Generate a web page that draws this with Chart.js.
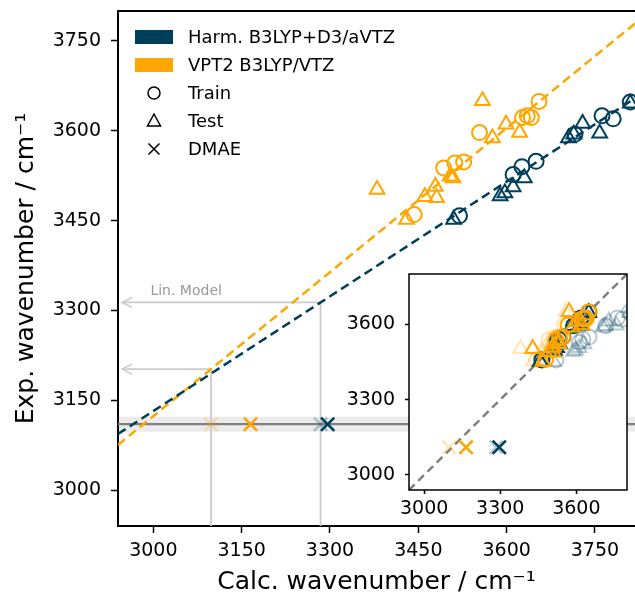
<!DOCTYPE html>
<html><head><meta charset="utf-8">
<script src="https://cdn.jsdelivr.net/npm/chart.js@4/dist/chart.umd.min.js"></script>
<style>
html,body{margin:0;padding:0;background:#fff;}
#wrap{position:relative;width:635px;height:595px;overflow:hidden;}
#main{position:absolute;left:0;top:0;width:635px;height:595px;}
#inset{position:absolute;left:330px;top:265px;width:305px;height:265px;}
</style></head><body>
<div id="wrap">
<canvas id="main" width="635" height="595"></canvas>
<canvas id="inset" width="305" height="265"></canvas>
</div>
<script>
// ---------------- data ----------------
const harmTrainCalc = [3520, 3611, 3626, 3650, 3716, 3762, 3781, 3810];
const harmTrainExp  = [3458, 3527, 3540, 3549, 3594, 3625, 3620, 3648];
const harmTestCalc  = [3510, 3589, 3597, 3611, 3630, 3705, 3714, 3729, 3758, 3810];
const harmTestExp   = [3452, 3491, 3496, 3506, 3521, 3588, 3594, 3612, 3596, 3646];
const vptTrainCalc  = [3443, 3493, 3512, 3527, 3554, 3627, 3635, 3642, 3655];
const vptTrainExp   = [3460, 3538, 3546, 3548, 3597, 3622, 3625, 3622, 3649];
const vptTestCalc   = [3380, 3430, 3461, 3479, 3481, 3504, 3509, 3559, 3576, 3599, 3622];
const vptTestExp    = [3502, 3452, 3490, 3507, 3488, 3524, 3521, 3650, 3588, 3611, 3597];

// linear models (exp = slope * calc + intercept)
const harmSlope = 0.6386, harmIntercept = 1216.15;
const vptSlope  = 0.8015, vptIntercept  = 718.97;

// DMAE
const dmaeExp = 3110;
const dmaeBandHalf = 12.5;
const dmaeHarmCalc = 3296, dmaeVptCalc = 3165;   // raw
const dmaeHarmLin  = 3284, dmaeVptLin  = 3098;   // lin. model marks

// axes
const mainXRange = [2940, 3818];
const mainYRange = [2940, 3800];
const insetRange = [2940, 3800];
const mainTicks  = [3000, 3150, 3300, 3450, 3600, 3750];
const insetTicks = [3000, 3300, 3600];
const arrowTipCalc = 2947;

const legendLabels = ['Harm. B3LYP+D3/aVTZ', 'VPT2 B3LYP/VTZ', 'Train', 'Test', 'DMAE'];
const xTitle = 'Calc. wavenumber / cm⁻¹';
const yTitle = 'Exp. wavenumber / cm⁻¹';
const linModelText = 'Lin. Model';

// ---------------- styles ----------------
const BLUE = '#003f5c', ORANGE = '#ffa600';
const BLUE_F = 'rgba(0,63,92,0.28)', ORANGE_F = 'rgba(255,166,0,0.28)';
const FONT = 'DejaVu Sans';

// ---------------- helpers ----------------
const pts = (xs, ys) => xs.map((x, i) => ({x, y: ys[i]}));
const corr = (xs, ys, a, b) => xs.map((x, i) => ({x: a * x + b, y: ys[i]}));
const model = (a, b, x0, x1) => [{x: x0, y: a * x0 + b}, {x: x1, y: a * x1 + b}];
const fixTicks = vals => s => { s.ticks = vals.map(v => ({value: v})); };
const fitH = h => s => { s.height = h; s.paddingLeft = 0; s.paddingRight = 0; s.paddingTop = 0; s.paddingBottom = 0; };
const fitW = w => s => { s.width = w; s.paddingLeft = 0; s.paddingRight = 0; s.paddingTop = 0; s.paddingBottom = 0; };

function marker(data, style, color, r, bw, order) {
  return {data, pointStyle: style, pointRadius: r, pointHoverRadius: r,
    pointBorderColor: color, pointBackgroundColor: 'rgba(0,0,0,0)',
    borderColor: color, backgroundColor: 'rgba(0,0,0,0)',
    pointBorderWidth: bw, showLine: false, order};
}
function line(data, color, width, dash, order, extra) {
  return Object.assign({data, showLine: true, pointRadius: 0, pointHoverRadius: 0,
    borderColor: color, borderWidth: width, borderDash: dash || [], fill: false,
    backgroundColor: 'rgba(0,0,0,0)', order, tension: 0}, extra || {});
}

const R_C = 7.5, R_T = 8.5, R_X = 9.4, BW = 2, BWX = 2.6;

// ---------------- main chart ----------------
const vptLinY  = vptSlope * dmaeVptLin + vptIntercept;
const harmLinY = harmSlope * dmaeHarmLin + harmIntercept;

const mainPlugin = {
  id: 'mainDeco',
  afterDraw(chart) {
    const {ctx, chartArea: a, scales: {x, y}} = chart;
    ctx.save();
    ctx.strokeStyle = '#000'; ctx.lineWidth = 2;
    ctx.beginPath(); ctx.moveTo(a.left - 1, a.top); ctx.lineTo(a.right, a.top); ctx.stroke();
    ctx.strokeStyle = '#cccccc'; ctx.lineWidth = 1.6;
    [vptLinY, harmLinY].forEach(v => {
      const px = x.getPixelForValue(arrowTipCalc), py = y.getPixelForValue(v);
      ctx.beginPath(); ctx.moveTo(px + 10, py - 5); ctx.lineTo(px, py); ctx.lineTo(px + 10, py + 5); ctx.stroke();
    });
    ctx.fillStyle = '#999999'; ctx.font = '14px "' + FONT + '"'; ctx.textBaseline = 'middle'; ctx.textAlign = 'left';
    ctx.fillText(linModelText, x.getPixelForValue(2995), y.getPixelForValue(harmLinY) - 11);
    const x0 = a.left + 17, tx = a.left + 70, y0 = a.top + 26, dy = 28;
    ctx.font = '18px "' + FONT + '"';
    legendLabels.forEach((lab, i) => {
      const yy = y0 + i * dy, cx = x0 + 19;
      ctx.strokeStyle = '#000'; ctx.lineWidth = 1.5;
      if (i === 0 || i === 1) {
        ctx.fillStyle = i === 0 ? BLUE : ORANGE;
        ctx.fillRect(x0, yy - 7, 38, 14);
      } else if (i === 2) {
        ctx.beginPath(); ctx.arc(cx, yy, 6, 0, Math.PI * 2); ctx.stroke();
      } else if (i === 3) {
        ctx.beginPath(); ctx.moveTo(cx, yy - 7); ctx.lineTo(cx + 6.5, yy + 5); ctx.lineTo(cx - 6.5, yy + 5); ctx.closePath(); ctx.stroke();
      } else {
        ctx.beginPath(); ctx.moveTo(cx - 5.5, yy - 5.5); ctx.lineTo(cx + 5.5, yy + 5.5);
        ctx.moveTo(cx + 5.5, yy - 5.5); ctx.lineTo(cx - 5.5, yy + 5.5); ctx.stroke();
      }
      ctx.fillStyle = '#000';
      ctx.fillText(lab, tx, yy + 1);
    });
    ctx.restore();
  }
};

new Chart(document.getElementById('main'), {
  type: 'scatter',
  data: {datasets: [
    marker([{x: dmaeHarmCalc, y: dmaeExp}], 'crossRot', BLUE, R_X, BWX, 0),
    marker([{x: dmaeVptCalc, y: dmaeExp}], 'crossRot', ORANGE, R_X, BWX, 0),
    marker([{x: dmaeHarmLin, y: dmaeExp}], 'crossRot', BLUE_F, R_X, BWX, 0),
    marker([{x: dmaeVptLin, y: dmaeExp}], 'crossRot', ORANGE_F, R_X, BWX, 0),
    line(model(harmSlope, harmIntercept, mainXRange[0], mainXRange[1]), BLUE, 2.5, [9, 5], 1),
    line(model(vptSlope, vptIntercept, mainXRange[0], mainXRange[1]), ORANGE, 2.5, [9, 5], 1),
    marker(pts(harmTrainCalc, harmTrainExp), 'circle', BLUE, R_C, BW, 2),
    marker(pts(harmTestCalc, harmTestExp), 'triangle', BLUE, R_T, BW, 2),
    marker(pts(vptTrainCalc, vptTrainExp), 'circle', ORANGE, R_C, BW, 2),
    marker(pts(vptTestCalc, vptTestExp), 'triangle', ORANGE, R_T, BW, 2),
    line([{x: mainXRange[0], y: dmaeExp}, {x: mainXRange[1], y: dmaeExp}], '#808080', 2.2, [], 3),
    line([{x: dmaeVptLin, y: mainYRange[0]}, {x: dmaeVptLin, y: vptLinY}, {x: arrowTipCalc, y: vptLinY}], '#cccccc', 1.8, [], 4),
    line([{x: dmaeHarmLin, y: mainYRange[0]}, {x: dmaeHarmLin, y: harmLinY}, {x: arrowTipCalc, y: harmLinY}], '#cccccc', 1.8, [], 4),
    line([{x: mainXRange[0], y: dmaeExp + dmaeBandHalf}, {x: mainXRange[1], y: dmaeExp + dmaeBandHalf}], 'rgba(0,0,0,0)', 0, [], 5,
      {fill: {value: dmaeExp - dmaeBandHalf}, backgroundColor: 'rgba(0,0,0,0.08)'})
  ]},
  options: {
    responsive: false, animation: false, events: [],
    layout: {autoPadding: false, padding: {left: 0, right: 0, top: 11, bottom: 0}},
    scales: {
      x: {type: 'linear', min: mainXRange[0], max: mainXRange[1], afterBuildTicks: fixTicks(mainTicks),
        afterFit: fitH(69),
        grid: {display: true, drawOnChartArea: false, drawTicks: true, tickLength: 7, tickWidth: 1.5, tickColor: '#000'},
        border: {display: true, color: '#000', width: 2},
        ticks: {color: '#000', font: {family: FONT, size: 19}, padding: 7, maxRotation: 0, autoSkip: false, callback: v => String(v)},
        title: {display: true, text: xTitle, color: '#000', font: {family: FONT, size: 25, lineHeight: 1}, padding: {top: 0, bottom: 0}}},
      y: {type: 'linear', min: mainYRange[0], max: mainYRange[1], afterBuildTicks: fixTicks(mainTicks),
        afterFit: fitW(118),
        grid: {display: true, drawOnChartArea: false, drawTicks: true, tickLength: 7, tickWidth: 1.5, tickColor: '#000'},
        border: {display: true, color: '#000', width: 2},
        ticks: {color: '#000', font: {family: FONT, size: 19}, padding: 10, autoSkip: false, callback: v => String(v)},
        title: {display: true, text: yTitle, color: '#000', font: {family: FONT, size: 25, lineHeight: 1}, padding: {top: 14, bottom: 0}}}
    },
    plugins: {legend: {display: false}, tooltip: {enabled: false}}
  },
  plugins: [mainPlugin]
});

// ---------------- inset chart ----------------
const insetPlugin = {
  id: 'insetDeco',
  beforeDraw(chart) {
    const {ctx, chartArea: a} = chart;
    ctx.save(); ctx.fillStyle = '#fff'; ctx.fillRect(a.left, a.top, a.right - a.left, a.bottom - a.top); ctx.restore();
  },
  afterDraw(chart) {
    const {ctx, chartArea: a} = chart;
    ctx.save(); ctx.strokeStyle = '#000'; ctx.lineWidth = 1.5;
    ctx.strokeRect(a.left, a.top, a.right - a.left, a.bottom - a.top); ctx.restore();
  }
};

new Chart(document.getElementById('inset'), {
  type: 'scatter',
  data: {datasets: [
    marker([{x: dmaeHarmCalc, y: dmaeExp}], 'crossRot', BLUE, R_X, BWX, 0),
    marker([{x: dmaeVptCalc, y: dmaeExp}], 'crossRot', ORANGE, R_X, BWX, 0),
    marker([{x: dmaeHarmLin, y: dmaeExp}], 'crossRot', BLUE_F, R_X, BWX, 0),
    marker([{x: dmaeVptLin, y: dmaeExp}], 'crossRot', ORANGE_F, R_X, BWX, 0),
    marker(corr(vptTrainCalc, vptTrainExp, vptSlope, vptIntercept), 'circle', ORANGE, R_C, BW, 1),
    marker(corr(vptTestCalc, vptTestExp, vptSlope, vptIntercept), 'triangle', ORANGE, R_T, BW, 1),
    marker(corr(harmTrainCalc, harmTrainExp, harmSlope, harmIntercept), 'circle', BLUE, R_C, BW, 2),
    marker(corr(harmTestCalc, harmTestExp, harmSlope, harmIntercept), 'triangle', BLUE, R_T, BW, 2),
    line([{x: insetRange[0], y: insetRange[0]}, {x: insetRange[1], y: insetRange[1]}], '#808080', 2.5, [8, 5], 3),
    marker(pts(vptTrainCalc, vptTrainExp), 'circle', ORANGE_F, R_C, BW, 4),
    marker(pts(vptTestCalc, vptTestExp), 'triangle', ORANGE_F, R_T, BW, 4),
    marker(pts(harmTrainCalc, harmTrainExp), 'circle', BLUE_F, R_C, BW, 4),
    marker(pts(harmTestCalc, harmTestExp), 'triangle', BLUE_F, R_T, BW, 4)
  ]},
  options: {
    responsive: false, animation: false, events: [],
    layout: {autoPadding: false, padding: {left: 0, right: 8, top: 9, bottom: 0}},
    scales: {
      x: {type: 'linear', min: insetRange[0], max: insetRange[1], afterBuildTicks: fixTicks(insetTicks),
        afterFit: fitH(40),
        grid: {display: true, drawOnChartArea: false, drawTicks: true, tickLength: 4, tickWidth: 1.5, tickColor: '#000'},
        border: {display: false},
        ticks: {color: '#000', font: {family: FONT, size: 19}, padding: 4, maxRotation: 0, autoSkip: false, callback: v => String(v)}},
      y: {type: 'linear', min: insetRange[0], max: insetRange[1], afterBuildTicks: fixTicks(insetTicks),
        afterFit: fitW(79),
        grid: {display: true, drawOnChartArea: false, drawTicks: true, tickLength: 4, tickWidth: 1.5, tickColor: '#000'},
        border: {display: false},
        ticks: {color: '#000', font: {family: FONT, size: 19}, padding: 10, autoSkip: false, callback: v => String(v)}}
    },
    plugins: {legend: {display: false}, tooltip: {enabled: false}}
  },
  plugins: [insetPlugin]
});
</script>
</body></html>
